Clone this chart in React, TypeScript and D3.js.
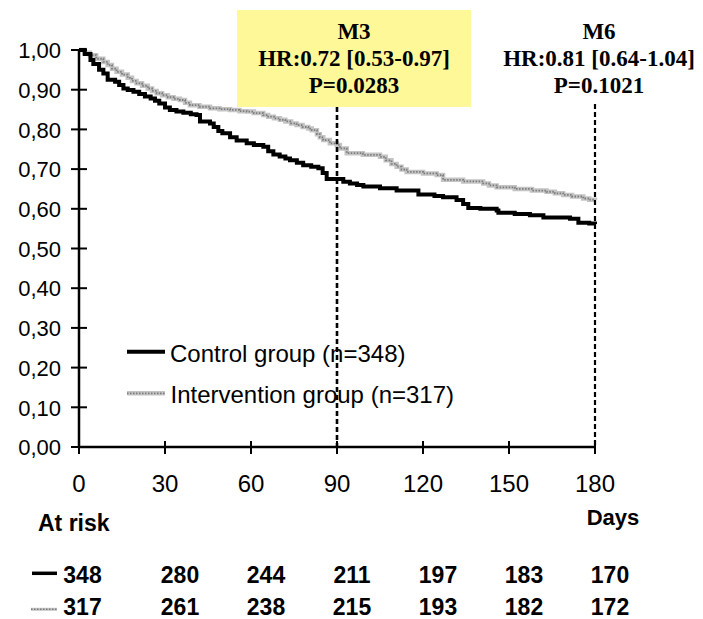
import React from "react";
import * as d3 from "d3";

const yTicks = [0, 0.1, 0.2, 0.3, 0.4, 0.5, 0.6, 0.7, 0.8, 0.9, 1.0];
const xTicks = [0, 30, 60, 90, 120, 150, 180];

const controlDays = [0, 2, 4, 5, 7, 8.5, 10, 12.6, 14, 15.5, 17, 19, 21, 23, 25, 26.5, 28, 30, 31.7, 34, 36.4, 39, 41, 42.2, 45.7, 47, 48.6, 50, 52.7, 55, 58.5, 61, 64.3, 66, 67.8, 70, 72, 73.6, 76, 78.2, 81, 83.5, 85, 86.4, 92.2, 94.5, 97, 99.2, 105, 110.8, 118.4, 124, 127, 131.7, 134, 135.8, 140, 145.7, 146.3, 152, 157.3, 162, 171.3, 174.2, 178, 180];
const controlSurv = [1.0, 0.99, 0.975, 0.965, 0.95, 0.941, 0.925, 0.92, 0.912, 0.903, 0.899, 0.895, 0.889, 0.883, 0.878, 0.872, 0.865, 0.855, 0.849, 0.845, 0.842, 0.838, 0.836, 0.82, 0.815, 0.806, 0.796, 0.79, 0.78, 0.772, 0.765, 0.761, 0.756, 0.745, 0.737, 0.732, 0.727, 0.722, 0.716, 0.71, 0.706, 0.702, 0.69, 0.675, 0.668, 0.664, 0.66, 0.656, 0.652, 0.646, 0.636, 0.632, 0.629, 0.622, 0.612, 0.602, 0.6, 0.596, 0.59, 0.587, 0.584, 0.578, 0.575, 0.565, 0.563, 0.562];

const interventionDays = [0, 2, 3.8, 6, 8.5, 10, 11.5, 13.1, 15, 17, 18.5, 20.1, 22, 24, 25.5, 27.1, 29, 31, 33, 35.2, 37, 38.7, 42, 45.7, 49, 52.7, 56, 58.5, 61, 64.3, 66, 68, 70.1, 72, 74, 75.9, 78, 80, 81.2, 83, 84, 85.2, 87.5, 89.9, 91, 93.4, 99, 105, 107, 109, 110.8, 112.5, 114.3, 120, 124.8, 127, 134, 141, 143, 145.7, 152, 158, 163.1, 166, 168.9, 172, 175.9, 178, 180];
const interventionSurv = [1.0, 0.993, 0.987, 0.978, 0.97, 0.962, 0.953, 0.945, 0.938, 0.93, 0.922, 0.916, 0.91, 0.903, 0.897, 0.891, 0.886, 0.881, 0.877, 0.874, 0.867, 0.861, 0.857, 0.853, 0.851, 0.849, 0.846, 0.845, 0.841, 0.836, 0.832, 0.828, 0.824, 0.82, 0.815, 0.811, 0.806, 0.802, 0.798, 0.788, 0.78, 0.773, 0.765, 0.761, 0.752, 0.74, 0.736, 0.731, 0.722, 0.713, 0.706, 0.699, 0.693, 0.689, 0.685, 0.673, 0.669, 0.664, 0.659, 0.654, 0.65, 0.646, 0.643, 0.639, 0.635, 0.631, 0.626, 0.623, 0.622];

const atRiskControl = [348, 280, 244, 211, 197, 183, 170];
const atRiskIntervention = [317, 261, 238, 215, 193, 182, 172];
const legendLabels = ["Control group (n=348)", "Intervention group (n=317)"];
const m3Lines = ["M3", "HR:0.72 [0.53-0.97]", "P=0.0283"];
const m6Lines = ["M6", "HR:0.81 [0.64-1.04]", "P=0.1021"];
const markerDays = [90, 180];

const SANS = "'Liberation Sans', Arial, sans-serif";
const SERIF = "'Liberation Serif', 'Times New Roman', serif";

export default function App() {
  const x = d3.scaleLinear().domain([0, 180]).range([79, 595]);
  const y = d3.scaleLinear().domain([0, 1]).range([447, 50]);
  const line = d3
    .line<[number, number]>()
    .x((d) => x(d[0]))
    .y((d) => y(d[1]))
    .curve(d3.curveStepAfter);
  const ctrl = line(controlDays.map((d, i) => [d, controlSurv[i]] as [number, number])) || "";
  const intv = line(interventionDays.map((d, i) => [d, interventionSurv[i]] as [number, number])) || "";
  const fmt = (v: number) => d3.format(".2f")(v).replace(".", ",");
  const riskX = (d: number) => (d === 0 ? x(d) + 3.5 : x(d) + 15);

  const grayLine = (dPath: string, key: string) => (
    <g key={key}>
      <path d={dPath} fill="none" stroke="#c4c4c4" strokeWidth={4.5} />
      <path d={dPath} fill="none" stroke="#7c7c7c" strokeWidth={1.8} strokeDasharray="1.5 1.5" />
    </g>
  );

  return (
    <svg width={703} height={619} style={{ position: "absolute", left: 0, top: 0, background: "#fff" }}>
      {/* M3 box */}
      <rect x={237} y={10} width={234} height={97} fill="#fff899" />

      {/* curves */}
      {grayLine(intv, "intv")}
      <path d={ctrl} fill="none" stroke="#000" strokeWidth={4} />

      {/* legend */}
      <line x1={127} x2={165} y1={351.7} y2={351.7} stroke="#000" strokeWidth={4} />
      <text x={170} y={361.5} fontFamily={SANS} fontSize={24}>{legendLabels[0]}</text>
      {grayLine(`M127,393.3H165`, "lg")}
      <text x={170.5} y={402.5} fontFamily={SANS} fontSize={24}>{legendLabels[1]}</text>

      {/* dashed markers */}
      {markerDays.map((d, i) => (
        <line key={d} x1={x(d)} x2={x(d)} y1={i === 0 ? 107 : 104} y2={447} stroke="#000"
          strokeWidth={i === 0 ? 2.6 : 2.2} strokeDasharray="5 3" />
      ))}

      {/* axes */}
      <line x1={x(0)} x2={x(0)} y1={y(1)} y2={y(0)} stroke="#000" strokeWidth={2.5} />
      <line x1={x(0)} x2={x(180)} y1={y(0)} y2={y(0)} stroke="#000" strokeWidth={2.5} />
      {yTicks.map((t) => (
        <g key={"y" + t}>
          <line x1={71} x2={87} y1={y(t)} y2={y(t)} stroke="#000" strokeWidth={2} />
          <text x={61} y={y(t) + 8.2} textAnchor="end" fontFamily={SANS} fontSize={22}>{fmt(t)}</text>
        </g>
      ))}
      {xTicks.map((t) => (
        <g key={"x" + t}>
          <line x1={x(t)} x2={x(t)} y1={441} y2={454} stroke="#000" strokeWidth={2} />
          <text x={x(t)} y={491.5} textAnchor="middle" fontFamily={SANS} fontSize={24}>{t}</text>
        </g>
      ))}

      {/* annotations */}
      {m3Lines.map((s, i) => (
        <text key={"m3" + i} x={354} y={39.3 + i * 27} textAnchor="middle" fontFamily={SERIF} fontWeight="bold" fontSize={23}>{s}</text>
      ))}
      {m6Lines.map((s, i) => (
        <text key={"m6" + i} x={599} y={39.3 + i * 27} textAnchor="middle" fontFamily={SERIF} fontWeight="bold" fontSize={23}>{s}</text>
      ))}

      {/* at risk table */}
      <text x={38} y={531} fontFamily={SANS} fontWeight="bold" fontSize={23}>At risk</text>
      <text x={613} y={525} textAnchor="middle" fontFamily={SANS} fontWeight="bold" fontSize={22}>Days</text>
      <line x1={32} x2={57} y1={573.3} y2={573.3} stroke="#000" strokeWidth={3.5} />
      <g>
        <line x1={31} x2={57} y1={609.3} y2={609.3} stroke="#c4c4c4" strokeWidth={3} />
        <line x1={31} x2={57} y1={609.3} y2={609.3} stroke="#7c7c7c" strokeWidth={1.4} strokeDasharray="1.5 1.5" />
      </g>
      {xTicks.map((d, i) => (
        <g key={"r" + d}>
          <text x={riskX(d)} y={582.5} textAnchor="middle" fontFamily={SANS} fontWeight="bold" fontSize={23}>{atRiskControl[i]}</text>
          <text x={riskX(d)} y={614.5} textAnchor="middle" fontFamily={SANS} fontWeight="bold" fontSize={23}>{atRiskIntervention[i]}</text>
        </g>
      ))}
    </svg>
  );
}
